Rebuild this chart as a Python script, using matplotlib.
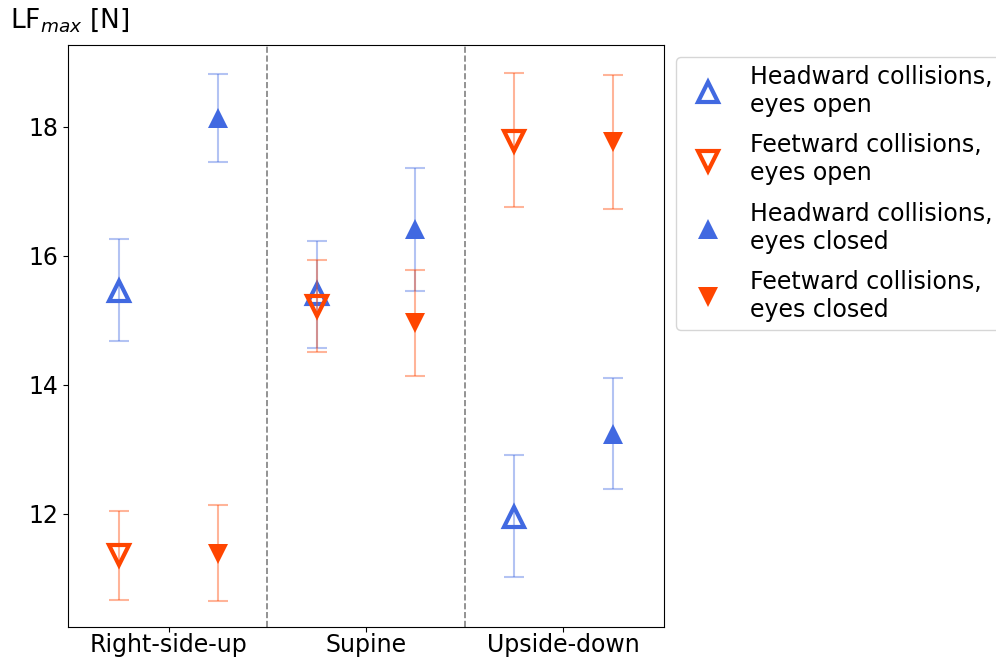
import numpy as np
import matplotlib
matplotlib.use('Agg')
import matplotlib.pyplot as plt

# ---------------------------------------------------------------------------
# Data: peak load force (N) per orientation, mean with lower / upper bounds
# ---------------------------------------------------------------------------

ORIENTATIONS = ['Right-side-up', 'Supine', 'Upside-down']

head_open_mean = [15.46, 15.40, 11.95]
head_open_lo = [14.68, 14.57, 11.02]
head_open_hi = [16.26, 16.23, 12.91]

feet_open_mean = [11.36, 15.22, 17.78]
feet_open_lo = [10.66, 14.50, 16.75]
feet_open_hi = [12.04, 15.94, 18.84]

head_closed_mean = [18.13, 16.41, 13.23]
head_closed_lo = [17.46, 15.46, 12.38]
head_closed_hi = [18.82, 17.36, 14.10]

feet_closed_mean = [11.38, 14.95, 17.76]
feet_closed_lo = [10.64, 14.14, 16.73]
feet_closed_hi = [12.13, 15.78, 18.81]

BLUE = '#4169E1'
RED = '#FF4500'
OFFSET = 0.25

plt.rcParams['font.family'] = 'DejaVu Sans'
plt.rcParams['font.size'] = 17


def draw_series(ax, xs, mean, lo, hi, color, marker, hollow, label):
    mean = np.asarray(mean)
    yerr = np.vstack([mean - np.asarray(lo), np.asarray(hi) - mean])
    ax.errorbar(xs, mean, yerr=yerr, fmt='none', ecolor=color, alpha=0.4,
                elinewidth=1.5, capsize=7, capthick=1.5)
    if hollow:
        ax.plot(xs, mean, linestyle='none', marker=marker, markersize=14,
                markerfacecolor='none', markeredgecolor=color,
                markeredgewidth=3, label=label)
    else:
        ax.plot(xs, mean, linestyle='none', marker=marker, markersize=15,
                color=color, markeredgewidth=0, label=label)


fig = plt.figure(figsize=(9.96, 6.6), dpi=100)
ax = fig.add_axes([68 / 996, 33 / 660, 596 / 996, 582 / 660])

x = np.arange(len(ORIENTATIONS))
draw_series(ax, x - OFFSET, head_open_mean, head_open_lo, head_open_hi,
            BLUE, '^', True, 'Headward collisions,\neyes open')
draw_series(ax, x - OFFSET, feet_open_mean, feet_open_lo, feet_open_hi,
            RED, 'v', True, 'Feetward collisions,\neyes open')
draw_series(ax, x + OFFSET, head_closed_mean, head_closed_lo, head_closed_hi,
            BLUE, '^', False, 'Headward collisions,\neyes closed')
draw_series(ax, x + OFFSET, feet_closed_mean, feet_closed_lo, feet_closed_hi,
            RED, 'v', False, 'Feetward collisions,\neyes closed')

for xv in x[:-1] + 0.5:
    ax.axvline(xv, color='gray', linestyle='--', linewidth=1.2)

ax.set_xticks(x)
ax.set_xticklabels(ORIENTATIONS)
ax.set_yticks([12, 14, 16, 18])
ax.set_xlim(-0.51, 2.51)
ax.set_ylim(10.24, 19.27)
ax.tick_params(axis='x', pad=0.5)

fig.text(10 / 996, 1 - 20 / 660, r'LF$_{max}$ [N]', fontsize=19,
         ha='left', va='center')

ax.legend(loc='upper left', bbox_to_anchor=(1, 1), fontsize=17,
          labelspacing=0.7, borderaxespad=0.5, borderpad=0.35)

fig.savefig('out.png', dpi=100)
plt.close(fig)
